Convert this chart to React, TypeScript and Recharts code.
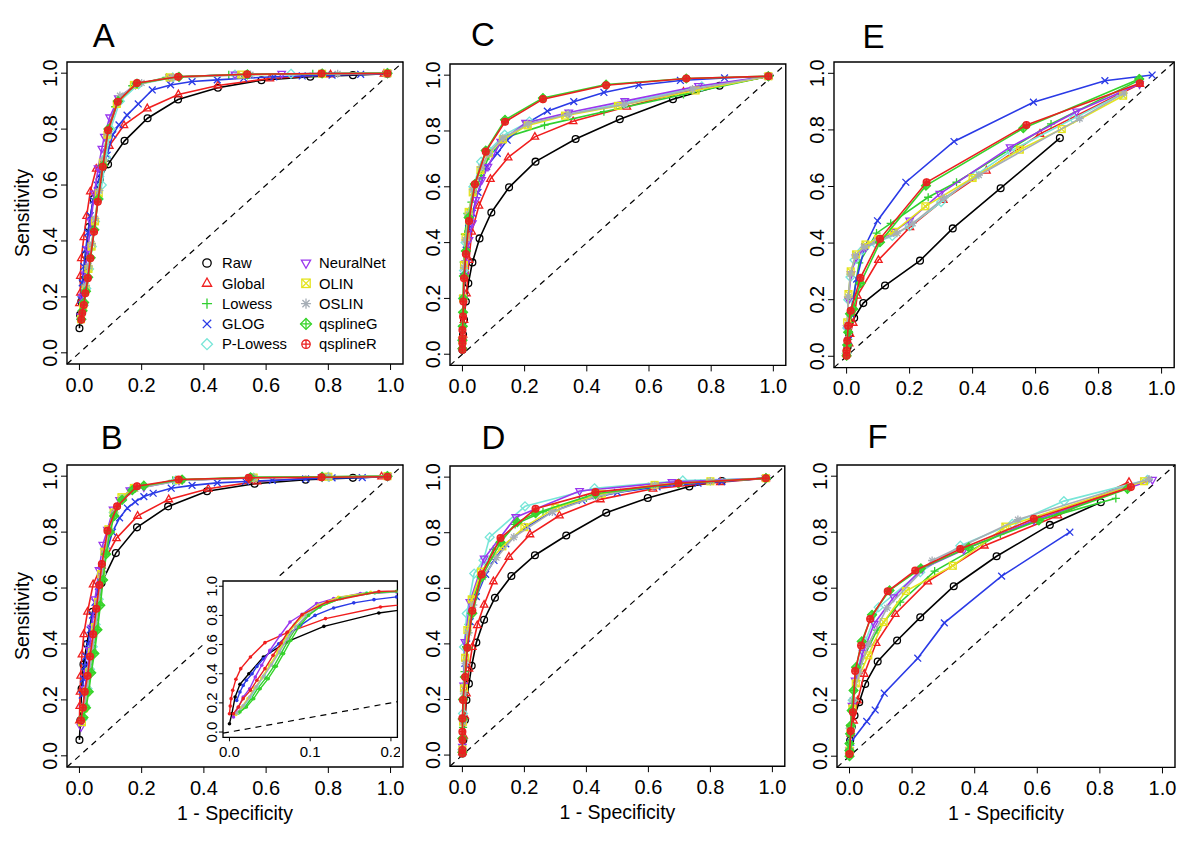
import { ScatterChart, Scatter, XAxis, YAxis, ReferenceLine, ReferenceArea, Legend, Label } from 'recharts';

type Pt = [number, number];

const FONT = '"Liberation Sans", Arial, Helvetica, sans-serif';

const methods = ['Raw', 'Global', 'Lowess', 'GLOG', 'P-Lowess', 'NeuralNet', 'OLIN', 'OSLIN', 'qsplineG', 'qsplineR'];
const colors = ['#000000', '#f01e1e', '#30cf30', '#2a3ae6', '#78e6d8', '#9a36ee', '#e4e41e', '#a6aeb6', '#36d42a', '#ea2020'];
const shapes = ['circle', 'triangle', 'plus', 'cross', 'diamond', 'triangleDown', 'squareX', 'asterisk', 'diamondPlus', 'circlePlus'];

const ticks = [0, 0.2, 0.4, 0.6, 0.8, 1];
const insetXTicks = [0, 0.1, 0.2];

// ---- panel A ----
const aRaw: Pt[] = [[0, 0.088], [0.002, 0.136], [0.006, 0.183], [0.012, 0.26], [0.02, 0.35], [0.03, 0.45], [0.045, 0.55], [0.065, 0.62], [0.092, 0.674], [0.145, 0.758], [0.219, 0.839], [0.317, 0.906], [0.445, 0.948], [0.585, 0.975], [0.742, 0.987], [0.879, 0.993], [0.99, 0.998]];
const aGlobal: Pt[] = [[0, 0.177], [0.003, 0.215], [0.003, 0.275], [0.006, 0.338], [0.014, 0.413], [0.023, 0.489], [0.035, 0.577], [0.054, 0.658], [0.096, 0.74], [0.143, 0.814], [0.218, 0.874], [0.318, 0.924], [0.445, 0.956], [0.612, 0.981], [0.807, 0.995], [0.979, 0.998]];
const aLowess: Pt[] = [[0.005, 0.13], [0.012, 0.18], [0.02, 0.24], [0.028, 0.3], [0.037, 0.37], [0.048, 0.46], [0.06, 0.56], [0.073, 0.67], [0.088, 0.78], [0.115, 0.88], [0.17, 0.955], [0.28, 0.985], [0.48, 0.994], [0.75, 0.998], [0.99, 1]];
const aGlog: Pt[] = [[0.005, 0.19], [0.009, 0.25], [0.014, 0.308], [0.02, 0.37], [0.027, 0.43], [0.035, 0.49], [0.044, 0.546], [0.057, 0.6], [0.068, 0.642], [0.089, 0.707], [0.107, 0.78], [0.127, 0.815], [0.153, 0.85], [0.189, 0.89], [0.234, 0.94], [0.293, 0.958], [0.362, 0.97], [0.443, 0.976], [0.528, 0.982], [0.625, 0.987], [0.716, 0.99], [0.812, 0.993], [0.904, 0.996], [0.99, 0.998]];
const aPLowess: Pt[] = [[0.006, 0.12], [0.014, 0.17], [0.022, 0.23], [0.031, 0.3], [0.04, 0.38], [0.05, 0.47], [0.062, 0.55], [0.072, 0.6], [0.085, 0.7], [0.1, 0.8], [0.13, 0.9], [0.19, 0.96], [0.3, 0.985], [0.5, 0.995], [0.68, 0.998], [0.99, 1]];
const aNeural: Pt[] = [[0.004, 0.13], [0.01, 0.2], [0.018, 0.28], [0.027, 0.37], [0.037, 0.47], [0.048, 0.57], [0.06, 0.66], [0.072, 0.73], [0.08, 0.773], [0.097, 0.842], [0.125, 0.91], [0.18, 0.96], [0.29, 0.985], [0.5, 0.995], [0.65, 0.998], [0.99, 1]];
const aOlin: Pt[] = [[0.005, 0.12], [0.012, 0.17], [0.02, 0.23], [0.029, 0.3], [0.039, 0.38], [0.05, 0.47], [0.062, 0.57], [0.075, 0.68], [0.09, 0.78], [0.12, 0.89], [0.175, 0.958], [0.29, 0.985], [0.52, 0.995], [0.78, 0.998], [0.99, 1]];
const aOslin: Pt[] = [[0.005, 0.12], [0.013, 0.18], [0.021, 0.24], [0.03, 0.31], [0.04, 0.39], [0.051, 0.48], [0.064, 0.58], [0.077, 0.69], [0.092, 0.79], [0.13, 0.92], [0.2, 0.965], [0.3, 0.985], [0.55, 0.995], [0.83, 0.998], [0.99, 1]];
const aQG: Pt[] = [[0.006, 0.12], [0.01, 0.15], [0.015, 0.18], [0.021, 0.22], [0.028, 0.27], [0.036, 0.34], [0.048, 0.44], [0.06, 0.55], [0.076, 0.67], [0.093, 0.8], [0.124, 0.9], [0.185, 0.963], [0.32, 0.987], [0.54, 0.996], [0.78, 0.999], [0.99, 1]];
const aQR: Pt[] = [[0.006, 0.118], [0.009, 0.142], [0.014, 0.171], [0.019, 0.213], [0.027, 0.267], [0.035, 0.338], [0.047, 0.433], [0.059, 0.54], [0.075, 0.665], [0.092, 0.796], [0.123, 0.898], [0.185, 0.965], [0.317, 0.987], [0.539, 0.996], [0.778, 0.999], [0.99, 0.999]];

// ---- panel B (also used by the inset) ----
const bRaw: Pt[] = [[0, 0.057], [0.003, 0.126], [0.007, 0.24], [0.013, 0.327], [0.024, 0.4], [0.042, 0.515], [0.071, 0.618], [0.117, 0.725], [0.185, 0.817], [0.285, 0.892], [0.41, 0.946], [0.563, 0.973], [0.727, 0.987], [0.879, 0.994], [0.99, 0.999]];
const bGlobal: Pt[] = [[0, 0.126], [0.001, 0.178], [0.002, 0.229], [0.004, 0.286], [0.008, 0.362], [0.014, 0.435], [0.026, 0.515], [0.044, 0.613], [0.071, 0.68], [0.119, 0.778], [0.187, 0.858], [0.287, 0.917], [0.414, 0.955], [0.571, 0.981], [0.778, 0.996], [0.971, 0.999]];
const bLowess: Pt[] = [[0.011, 0.13], [0.019, 0.17], [0.027, 0.23], [0.035, 0.3], [0.045, 0.37], [0.055, 0.45], [0.064, 0.54], [0.073, 0.63], [0.083, 0.72], [0.096, 0.8], [0.112, 0.86], [0.14, 0.92], [0.18, 0.955], [0.3, 0.985], [0.55, 0.995], [0.8, 0.998], [0.99, 1]];
const bGlog: Pt[] = [[0.009, 0.217], [0.013, 0.275], [0.017, 0.32], [0.021, 0.355], [0.028, 0.4], [0.034, 0.45], [0.042, 0.503], [0.05, 0.549], [0.061, 0.606], [0.073, 0.67], [0.088, 0.732], [0.106, 0.8], [0.129, 0.851], [0.154, 0.886], [0.179, 0.908], [0.207, 0.927], [0.237, 0.939], [0.295, 0.957], [0.362, 0.967], [0.443, 0.976], [0.534, 0.981], [0.62, 0.985], [0.727, 0.99], [0.812, 0.994], [0.909, 0.995], [0.99, 0.999]];
const bPLowess: Pt[] = [[0.01, 0.13], [0.018, 0.18], [0.026, 0.24], [0.034, 0.31], [0.043, 0.39], [0.052, 0.47], [0.062, 0.56], [0.071, 0.65], [0.081, 0.74], [0.094, 0.81], [0.11, 0.87], [0.135, 0.92], [0.17, 0.955], [0.31, 0.985], [0.56, 0.995], [0.8, 0.998], [0.99, 1]];
const bNeural: Pt[] = [[0.005, 0.103], [0.011, 0.17], [0.017, 0.24], [0.025, 0.297], [0.032, 0.378], [0.04, 0.458], [0.05, 0.56], [0.063, 0.664], [0.075, 0.755], [0.09, 0.808], [0.108, 0.881], [0.129, 0.915], [0.162, 0.95], [0.207, 0.961], [0.32, 0.985], [0.55, 0.994], [0.78, 0.997], [0.99, 1]];
const bOlin: Pt[] = [[0.008, 0.12], [0.015, 0.17], [0.023, 0.23], [0.031, 0.3], [0.04, 0.37], [0.05, 0.46], [0.06, 0.55], [0.07, 0.65], [0.08, 0.73], [0.093, 0.81], [0.11, 0.87], [0.135, 0.925], [0.175, 0.958], [0.32, 0.986], [0.56, 0.995], [0.8, 0.998], [0.99, 1]];
const bOslin: Pt[] = [[0.009, 0.13], [0.017, 0.18], [0.025, 0.24], [0.033, 0.31], [0.042, 0.38], [0.052, 0.46], [0.062, 0.55], [0.072, 0.64], [0.082, 0.72], [0.095, 0.8], [0.112, 0.865], [0.14, 0.92], [0.18, 0.955], [0.33, 0.986], [0.56, 0.995], [0.8, 0.998], [0.99, 1]];
const bQG: Pt[] = [[0.013, 0.137], [0.021, 0.172], [0.03, 0.229], [0.038, 0.297], [0.048, 0.366], [0.058, 0.451], [0.067, 0.538], [0.076, 0.629], [0.086, 0.721], [0.098, 0.8], [0.112, 0.858], [0.137, 0.915], [0.17, 0.95], [0.207, 0.966], [0.33, 0.988], [0.55, 0.996], [0.78, 0.998], [0.99, 1]];
const bQR: Pt[] = [[0.005, 0.126], [0.011, 0.172], [0.017, 0.229], [0.026, 0.286], [0.034, 0.355], [0.044, 0.435], [0.054, 0.526], [0.064, 0.611], [0.072, 0.686], [0.09, 0.805], [0.121, 0.892], [0.185, 0.964], [0.319, 0.988], [0.544, 0.994], [0.778, 0.996], [0.99, 0.998]];

// ---- panel C ----
const cRaw: Pt[] = [[0, 0.016], [0.002, 0.07], [0.005, 0.123], [0.011, 0.189], [0.019, 0.254], [0.032, 0.329], [0.055, 0.415], [0.093, 0.508], [0.15, 0.598], [0.235, 0.69], [0.364, 0.771], [0.506, 0.842], [0.677, 0.914], [0.827, 0.962], [0.984, 0.996]];
const cGlobal: Pt[] = [[0, 0.03], [0.002, 0.07], [0.005, 0.123], [0.013, 0.218], [0.021, 0.338], [0.03, 0.439], [0.053, 0.532], [0.09, 0.628], [0.147, 0.705], [0.233, 0.779], [0.356, 0.835], [0.529, 0.887], [0.711, 0.94], [0.984, 0.996]];
const cLowess: Pt[] = [[0, 0.05], [0.002, 0.2], [0.004, 0.33], [0.008, 0.43], [0.016, 0.505], [0.029, 0.545], [0.06, 0.64], [0.085, 0.71], [0.144, 0.779], [0.264, 0.821], [0.455, 0.869], [0.711, 0.931], [0.984, 0.996]];
const cGlog: Pt[] = [[0, 0.05], [0.003, 0.2], [0.007, 0.3], [0.012, 0.373], [0.02, 0.45], [0.032, 0.505], [0.05, 0.58], [0.078, 0.672], [0.112, 0.72], [0.144, 0.767], [0.203, 0.825], [0.273, 0.871], [0.358, 0.905], [0.455, 0.938], [0.567, 0.964], [0.701, 0.981], [0.843, 0.99], [0.984, 0.996]];
const cPLowess: Pt[] = [[0, 0.05], [0.002, 0.2], [0.005, 0.3], [0.01, 0.4], [0.02, 0.5], [0.035, 0.6], [0.06, 0.69], [0.085, 0.73], [0.136, 0.787], [0.215, 0.834], [0.34, 0.86], [0.52, 0.9], [0.77, 0.96], [0.984, 0.996]];
const cNeural: Pt[] = [[0, 0.05], [0.003, 0.2], [0.006, 0.28], [0.011, 0.326], [0.021, 0.409], [0.032, 0.469], [0.043, 0.553], [0.062, 0.624], [0.082, 0.672], [0.123, 0.761], [0.203, 0.829], [0.342, 0.866], [0.522, 0.907], [0.759, 0.961], [0.984, 0.996]];
const cOlin: Pt[] = [[0, 0.05], [0.002, 0.2], [0.005, 0.32], [0.01, 0.42], [0.02, 0.51], [0.033, 0.58], [0.058, 0.66], [0.085, 0.72], [0.13, 0.77], [0.21, 0.82], [0.33, 0.855], [0.5, 0.89], [0.75, 0.945], [0.984, 0.996]];
const cOslin: Pt[] = [[0, 0.05], [0.002, 0.2], [0.005, 0.31], [0.01, 0.41], [0.02, 0.5], [0.034, 0.59], [0.06, 0.67], [0.085, 0.72], [0.13, 0.775], [0.21, 0.825], [0.34, 0.86], [0.52, 0.895], [0.74, 0.95], [0.984, 0.996]];
const cQG: Pt[] = [[0, 0.02], [0, 0.05], [0.001, 0.1], [0.002, 0.15], [0.003, 0.2], [0.005, 0.28], [0.011, 0.37], [0.02, 0.49], [0.04, 0.61], [0.075, 0.73], [0.137, 0.84], [0.259, 0.918], [0.462, 0.966], [0.72, 0.988], [0.984, 0.996]];
const cQR: Pt[] = [[0, 0.016], [0, 0.039], [0, 0.057], [0, 0.087], [0.002, 0.135], [0.003, 0.189], [0.005, 0.272], [0.011, 0.359], [0.021, 0.477], [0.04, 0.609], [0.075, 0.726], [0.137, 0.833], [0.259, 0.914], [0.462, 0.964], [0.72, 0.988], [0.984, 0.996]];

// ---- panel D ----
const dRaw: Pt[] = [[0, 0.006], [0.003, 0.054], [0.008, 0.126], [0.013, 0.198], [0.021, 0.257], [0.03, 0.321], [0.045, 0.405], [0.07, 0.487], [0.105, 0.566], [0.158, 0.644], [0.234, 0.719], [0.335, 0.79], [0.464, 0.872], [0.598, 0.925], [0.732, 0.966], [0.837, 0.986], [0.979, 0.996]];
const dGlobal: Pt[] = [[0, 0.01], [0.004, 0.07], [0.008, 0.14], [0.013, 0.222], [0.021, 0.311], [0.032, 0.389], [0.048, 0.467], [0.07, 0.541], [0.1, 0.625], [0.15, 0.713], [0.218, 0.794], [0.313, 0.862], [0.445, 0.92], [0.615, 0.958], [0.832, 0.982], [0.979, 0.996]];
const dLowess: Pt[] = [[0, 0.02], [0.002, 0.1], [0.004, 0.2], [0.007, 0.3], [0.012, 0.39], [0.02, 0.47], [0.035, 0.56], [0.06, 0.65], [0.1, 0.74], [0.17, 0.83], [0.26, 0.875], [0.4, 0.925], [0.6, 0.965], [0.8, 0.985], [0.979, 0.996]];
const dGlog: Pt[] = [[0, 0.02], [0.002, 0.12], [0.004, 0.24], [0.008, 0.33], [0.014, 0.4], [0.025, 0.48], [0.045, 0.57], [0.075, 0.65], [0.102, 0.7], [0.14, 0.76], [0.209, 0.823], [0.29, 0.875], [0.386, 0.916], [0.5, 0.945], [0.628, 0.965], [0.76, 0.978], [0.837, 0.984], [0.979, 0.996]];
const dPLowess: Pt[] = [[0, 0.02], [0.002, 0.15], [0.005, 0.389], [0.014, 0.509], [0.038, 0.653], [0.068, 0.701], [0.088, 0.784], [0.202, 0.895], [0.426, 0.96], [0.711, 0.988], [0.979, 0.996]];
const dNeural: Pt[] = [[0, 0.03], [0.002, 0.12], [0.004, 0.25], [0.008, 0.407], [0.024, 0.551], [0.07, 0.707], [0.172, 0.856], [0.378, 0.95], [0.676, 0.982], [0.979, 0.996]];
const dOlin: Pt[] = [[0, 0.02], [0.002, 0.12], [0.005, 0.24], [0.009, 0.35], [0.016, 0.45], [0.03, 0.56], [0.06, 0.66], [0.129, 0.751], [0.2, 0.82], [0.3, 0.89], [0.45, 0.94], [0.62, 0.972], [0.8, 0.985], [0.979, 0.996]];
const dOslin: Pt[] = [[0, 0.02], [0.002, 0.12], [0.005, 0.22], [0.01, 0.33], [0.02, 0.44], [0.035, 0.54], [0.066, 0.64], [0.11, 0.71], [0.166, 0.784], [0.29, 0.875], [0.43, 0.93], [0.62, 0.97], [0.8, 0.985], [0.979, 0.996]];
const dQG: Pt[] = [[0, 0.01], [0, 0.06], [0.001, 0.13], [0.002, 0.2], [0.008, 0.281], [0.016, 0.386], [0.032, 0.51], [0.062, 0.64], [0.123, 0.766], [0.177, 0.838], [0.236, 0.87], [0.429, 0.94], [0.697, 0.977], [0.979, 0.996]];
const dQR: Pt[] = [[0, 0.006], [0, 0.018], [0, 0.054], [0, 0.084], [0, 0.132], [0.002, 0.198], [0.009, 0.281], [0.016, 0.386], [0.032, 0.519], [0.062, 0.65], [0.123, 0.781], [0.236, 0.886], [0.429, 0.946], [0.697, 0.978], [0.979, 0.996]];

// ---- panel E ----
const eRaw: Pt[] = [[0, 0.008], [0.003, 0.032], [0.008, 0.079], [0.024, 0.135], [0.053, 0.188], [0.122, 0.25], [0.233, 0.338], [0.337, 0.452], [0.489, 0.594], [0.677, 0.771]];
const eGlobal: Pt[] = [[0, 0.008], [0.008, 0.045], [0.011, 0.079], [0.021, 0.118], [0.034, 0.214], [0.101, 0.34], [0.201, 0.456], [0.307, 0.552], [0.444, 0.656], [0.614, 0.786], [0.931, 0.962]];
const eLowess: Pt[] = [[0, 0.008], [0.005, 0.06], [0.01, 0.12], [0.02, 0.2], [0.04, 0.33], [0.095, 0.435], [0.14, 0.47], [0.259, 0.562], [0.349, 0.615], [0.649, 0.821], [0.929, 0.976]];
const eGlog: Pt[] = [[0, 0.008], [0.005, 0.055], [0.013, 0.15], [0.032, 0.273], [0.058, 0.388], [0.098, 0.479], [0.188, 0.615], [0.341, 0.759], [0.593, 0.898], [0.82, 0.974], [0.97, 0.994]];
const ePLowess: Pt[] = [[0, 0.01], [0.002, 0.1], [0.005, 0.2], [0.012, 0.28], [0.025, 0.34], [0.05, 0.375], [0.09, 0.4], [0.145, 0.425], [0.2, 0.46], [0.3, 0.545], [0.41, 0.64], [0.52, 0.725], [0.72, 0.84], [0.87, 0.925]];
const eNeural: Pt[] = [[0, 0.01], [0.002, 0.1], [0.006, 0.2], [0.014, 0.29], [0.03, 0.35], [0.06, 0.385], [0.1, 0.41], [0.15, 0.44], [0.2, 0.48], [0.296, 0.574], [0.519, 0.739], [0.73, 0.865], [0.93, 0.962]];
const eOlin: Pt[] = [[0, 0.01], [0.002, 0.12], [0.006, 0.22], [0.013, 0.3], [0.03, 0.36], [0.06, 0.395], [0.1, 0.415], [0.15, 0.44], [0.25, 0.53], [0.4, 0.63], [0.55, 0.73], [0.683, 0.803], [0.878, 0.921]];
const eOslin: Pt[] = [[0, 0.01], [0.002, 0.11], [0.005, 0.21], [0.012, 0.29], [0.028, 0.355], [0.055, 0.385], [0.095, 0.405], [0.16, 0.435], [0.21, 0.47], [0.31, 0.56], [0.42, 0.64], [0.74, 0.84], [0.88, 0.93]];
const eQG: Pt[] = [[0, 0.002], [0.002, 0.04], [0.005, 0.085], [0.011, 0.15], [0.021, 0.167], [0.044, 0.258], [0.106, 0.403], [0.252, 0.603], [0.561, 0.806], [0.929, 0.98]];
const eQR: Pt[] = [[0, 0.002], [0, 0.02], [0.002, 0.055], [0.005, 0.108], [0.013, 0.161], [0.044, 0.277], [0.106, 0.415], [0.254, 0.615], [0.571, 0.817], [0.931, 0.965]];

// ---- panel F ----
const fRaw: Pt[] = [[0, 0.008], [0.002, 0.056], [0.007, 0.104], [0.016, 0.145], [0.031, 0.193], [0.05, 0.258], [0.09, 0.338], [0.152, 0.413], [0.226, 0.496], [0.333, 0.607], [0.47, 0.714], [0.64, 0.826], [0.803, 0.907]];
const fGlobal: Pt[] = [[0, 0.02], [0.004, 0.08], [0.013, 0.127], [0.026, 0.199], [0.047, 0.294], [0.085, 0.404], [0.146, 0.508], [0.25, 0.624], [0.431, 0.752], [0.666, 0.86], [0.893, 0.979]];
const fLowess: Pt[] = [[0, 0.02], [0.003, 0.1], [0.01, 0.18], [0.022, 0.27], [0.035, 0.33], [0.088, 0.45], [0.162, 0.55], [0.272, 0.661], [0.482, 0.794], [0.6, 0.842], [0.851, 0.921]];
const fGlog: Pt[] = [[0.004, 0.05], [0.055, 0.124], [0.082, 0.165], [0.111, 0.225], [0.218, 0.35], [0.303, 0.476], [0.486, 0.643], [0.704, 0.8]];
const fPLowess: Pt[] = [[0, 0.02], [0.003, 0.1], [0.01, 0.2], [0.025, 0.31], [0.05, 0.41], [0.093, 0.532], [0.226, 0.657], [0.354, 0.752], [0.52, 0.83], [0.685, 0.911], [0.952, 0.987]];
const fNeural: Pt[] = [[0, 0.02], [0.003, 0.1], [0.008, 0.18], [0.018, 0.27], [0.043, 0.369], [0.079, 0.473], [0.141, 0.568], [0.232, 0.669], [0.365, 0.737], [0.589, 0.842], [0.968, 0.987]];
const fOlin: Pt[] = [[0, 0.02], [0.003, 0.1], [0.009, 0.17], [0.02, 0.26], [0.06, 0.36], [0.109, 0.479], [0.18, 0.59], [0.33, 0.68], [0.498, 0.82], [0.941, 0.982]];
const fOslin: Pt[] = [[0, 0.02], [0.003, 0.1], [0.01, 0.2], [0.03, 0.3], [0.06, 0.4], [0.12, 0.53], [0.264, 0.699], [0.538, 0.845], [0.957, 0.99]];
const fQG: Pt[] = [[0, 0], [0, 0.02], [0, 0.045], [0.002, 0.08], [0.004, 0.11], [0.007, 0.163], [0.013, 0.235], [0.021, 0.318], [0.039, 0.41], [0.072, 0.505], [0.128, 0.592], [0.228, 0.671], [0.381, 0.746], [0.605, 0.842], [0.888, 0.955]];
const fQR: Pt[] = [[0, 0.008], [0.004, 0.09], [0.011, 0.157], [0.018, 0.304], [0.037, 0.395], [0.066, 0.49], [0.122, 0.589], [0.21, 0.663], [0.354, 0.74], [0.589, 0.848], [0.899, 0.961]];

const panelA = [aRaw, aGlobal, aLowess, aGlog, aPLowess, aNeural, aOlin, aOslin, aQG, aQR];
const panelB = [bRaw, bGlobal, bLowess, bGlog, bPLowess, bNeural, bOlin, bOslin, bQG, bQR];
const panelC = [cRaw, cGlobal, cLowess, cGlog, cPLowess, cNeural, cOlin, cOslin, cQG, cQR];
const panelD = [dRaw, dGlobal, dLowess, dGlog, dPLowess, dNeural, dOlin, dOslin, dQG, dQR];
const panelE = [eRaw, eGlobal, eLowess, eGlog, ePLowess, eNeural, eOlin, eOslin, eQG, eQR];
const panelF = [fRaw, fGlobal, fLowess, fGlog, fPLowess, fNeural, fOlin, fOslin, fQG, fQR];

const toXY = (a: Pt[]) => a.map(([x, y]) => ({ x, y }));

function Marker({ cx, cy, kind, color, r = 3.4, sw = 1.2, filled = false }: any) {
  if (cx == null || cy == null) return null;
  const s = r;
  const common = { stroke: color, strokeWidth: sw, fill: 'none' };
  const ff = filled ? color : 'none';
  switch (kind) {
    case 'circle':
      return <circle cx={cx} cy={cy} r={s} {...common} />;
    case 'triangle':
      return <polygon points={`${cx},${cy - s * 1.25} ${cx - s * 1.1},${cy + s * 0.7} ${cx + s * 1.1},${cy + s * 0.7}`} {...common} />;
    case 'triangleDown':
      return <polygon points={`${cx},${cy + s * 1.25} ${cx - s * 1.1},${cy - s * 0.7} ${cx + s * 1.1},${cy - s * 0.7}`} {...common} />;
    case 'plus':
      return <path d={`M${cx - s * 1.2},${cy}H${cx + s * 1.2}M${cx},${cy - s * 1.2}V${cy + s * 1.2}`} {...common} />;
    case 'cross':
      return <path d={`M${cx - s},${cy - s}L${cx + s},${cy + s}M${cx - s},${cy + s}L${cx + s},${cy - s}`} {...common} />;
    case 'diamond':
      return <polygon points={`${cx},${cy - s * 1.3} ${cx + s * 1.3},${cy} ${cx},${cy + s * 1.3} ${cx - s * 1.3},${cy}`} {...common} />;
    case 'squareX':
      return (
        <g {...common}>
          <rect x={cx - s} y={cy - s} width={2 * s} height={2 * s} />
          <path d={`M${cx - s},${cy - s}L${cx + s},${cy + s}M${cx - s},${cy + s}L${cx + s},${cy - s}`} />
        </g>
      );
    case 'asterisk':
      return <path d={`M${cx - s * 1.2},${cy}H${cx + s * 1.2}M${cx},${cy - s * 1.2}V${cy + s * 1.2}M${cx - s * 0.85},${cy - s * 0.85}L${cx + s * 0.85},${cy + s * 0.85}M${cx - s * 0.85},${cy + s * 0.85}L${cx + s * 0.85},${cy - s * 0.85}`} {...common} />;
    case 'diamondPlus':
      return (
        <g stroke={color} strokeWidth={sw}>
          <polygon points={`${cx},${cy - s * 1.3} ${cx + s * 1.3},${cy} ${cx},${cy + s * 1.3} ${cx - s * 1.3},${cy}`} fill={ff} fillOpacity={0.75} />
          <path d={`M${cx - s * 1.3},${cy}H${cx + s * 1.3}M${cx},${cy - s * 1.3}V${cy + s * 1.3}`} fill="none" />
        </g>
      );
    case 'circlePlus':
      return (
        <g stroke={color} strokeWidth={sw}>
          <circle cx={cx} cy={cy} r={s} fill={ff} fillOpacity={0.75} />
          <path d={`M${cx - s},${cy}H${cx + s}M${cx},${cy - s}V${cy + s}`} fill="none" />
        </g>
      );
    default:
      return <circle cx={cx} cy={cy} r={s} {...common} />;
  }
}

const YTick = ({ x, y, payload, fs, off }: any) => {
  const bx = x + off;
  return (
    <text x={bx} y={y} transform={`rotate(-90 ${bx} ${y})`} textAnchor="middle" fontSize={fs} fontFamily={FONT} fill="#000">
      {Number(payload.value).toFixed(1)}
    </text>
  );
};

const XTick = ({ x, y, payload, fs, off }: any) => (
  <text x={x} y={y + off} textAnchor="middle" fontSize={fs} fontFamily={FONT} fill="#000">
    {Number(payload.value).toFixed(1)}
  </text>
);

const LegendBox = () => (
  <svg width={230} height={110} style={{ display: 'block' }}>
    {methods.map((m, i) => {
      const col = i < 5 ? 0 : 1;
      const row = i % 5;
      const cx = col ? 111 : 12;
      const cy = 13 + row * 20.3;
      return (
        <g key={m}>
          <Marker cx={cx} cy={cy} kind={shapes[i]} color={colors[i]} r={4.2} sw={1.3} />
          <text x={col ? 124 : 27} y={cy + 5.2} fontSize={14.8} fontFamily={FONT} fill="#000">{m}</text>
        </g>
      );
    })}
  </svg>
);

type Box = { l: number; t: number; w: number; h: number };

function Panel({ box, data, yTitle, xTitle, legend }: { box: Box; data: Pt[][]; yTitle?: boolean; xTitle?: boolean; legend?: boolean }) {
  const YW = 60, XH = 60, MT = 4, MR = 4;
  return (
    <div style={{ position: 'absolute', left: box.l - YW, top: box.t - MT }}>
      <ScatterChart width={YW + box.w + MR} height={MT + box.h + XH} margin={{ top: MT, right: MR, bottom: 0, left: 0 }}>
        <XAxis type="number" dataKey="x" domain={[-0.04, 1.04]} ticks={ticks} interval={0} height={XH}
          axisLine={false} tickSize={6} tickMargin={6} tickLine={{ stroke: '#000', strokeWidth: 1 }}
          tick={<XTick fs={20} off={15.5} />} allowDataOverflow>
          {xTitle && (
            <Label content={(p: any) => (
              <text x={p.viewBox.x + p.viewBox.width / 2} y={p.viewBox.y + 53} textAnchor="middle" fontSize={19.5} fontFamily={FONT} fill="#000">1 - Specificity</text>
            )} />
          )}
        </XAxis>
        <YAxis type="number" dataKey="y" domain={[-0.04, 1.04]} ticks={ticks} interval={0} width={YW}
          axisLine={false} tickSize={6} tickMargin={6} tickLine={{ stroke: '#000', strokeWidth: 1 }}
          tick={<YTick fs={20} off={1.7} />} allowDataOverflow>
          {yTitle && (
            <Label content={(p: any) => {
              const bx = p.viewBox.x + p.viewBox.width - 38;
              const cy = p.viewBox.y + p.viewBox.height / 2;
              return (
                <text x={bx} y={cy} transform={`rotate(-90 ${bx} ${cy})`} textAnchor="middle" fontSize={19.5} fontFamily={FONT} fill="#000">Sensitivity</text>
              );
            }} />
          )}
        </YAxis>
        <ReferenceLine segment={[{ x: -0.04, y: -0.04 }, { x: 1.04, y: 1.04 }]} stroke="#000" strokeWidth={1.2} strokeDasharray="6 5" ifOverflow="visible" />
        {data.map((pts, i) => (
          <Scatter key={methods[i]} name={methods[i]} data={toXY(pts)} fill={colors[i]}
            line={{ stroke: colors[i], strokeWidth: 1.6 }} isAnimationActive={false}
            shape={(p: any) => <Marker cx={p.cx} cy={p.cy} kind={shapes[i]} color={colors[i]} r={3.4} sw={1.3} filled={i >= 8} />} />
        ))}
        <ReferenceArea x1={-0.04} x2={1.04} y1={-0.04} y2={1.04} fill="none" fillOpacity={0} stroke="#000" strokeWidth={1.4} ifOverflow="visible" />
        {legend && (
          <Legend layout="horizontal" verticalAlign="middle" align="center"
            wrapperStyle={{ left: 188, top: 192, width: 230, height: 110, margin: 0 }}
            content={() => <LegendBox />} />
        )}
      </ScatterChart>
    </div>
  );
}

function Inset() {
  const box = { l: 222.8, t: 580.7, w: 174.4, h: 156.3 };
  const YW = 20, XH = 27, MT = 14, MR = 3;
  return (
    <div style={{ position: 'absolute', left: box.l - YW, top: box.t - MT, background: `linear-gradient(to bottom, transparent ${MT - 5}px, #fff ${MT - 5}px)` }}>
      <ScatterChart width={YW + box.w + MR} height={MT + box.h + XH} margin={{ top: MT, right: MR, bottom: 0, left: 0 }}>
        <XAxis type="number" dataKey="x" domain={[-0.008, 0.208]} ticks={insetXTicks} interval={0} height={XH}
          axisLine={false} tickSize={4} tickMargin={3} tickLine={{ stroke: '#000', strokeWidth: 1 }}
          tick={<XTick fs={15} off={13} />} allowDataOverflow />
        <YAxis type="number" dataKey="y" domain={[-0.036, 1.036]} ticks={ticks} interval={0} width={YW}
          axisLine={false} tickSize={4} tickMargin={3} tickLine={{ stroke: '#000', strokeWidth: 1 }}
          tick={<YTick fs={15} off={0.7} />} allowDataOverflow />
        <ReferenceLine segment={[{ x: -0.008, y: -0.008 }, { x: 0.208, y: 0.208 }]} stroke="#000" strokeWidth={1.2} strokeDasharray="6 5" ifOverflow="visible" />
        {panelB.map((pts, i) => (
          <Scatter key={methods[i]} name={methods[i]} data={toXY(pts)} fill={colors[i]}
            line={{ stroke: colors[i], strokeWidth: 1.4 }} isAnimationActive={false}
            shape={(p: any) => (p.cx == null ? null : <circle cx={p.cx} cy={p.cy} r={1.8} fill={colors[i]} />)} />
        ))}
        <ReferenceArea x1={-0.008} x2={0.208} y1={-0.036} y2={1.036} fill="none" fillOpacity={0} stroke="#000" strokeWidth={1.3} ifOverflow="visible" />
      </ScatterChart>
    </div>
  );
}

const letters: [string, number, number][] = [
  ['A', 92.7, 46.7], ['B', 100.7, 449.3], ['C', 471, 46.3],
  ['D', 481.4, 449.3], ['E', 862.4, 48.3], ['F', 867.4, 448.3],
];

export default function App() {
  return (
    <div style={{ position: 'absolute', left: 0, top: 0, width: 1200, height: 864, background: '#fff', overflow: 'hidden' }}>
      <Panel box={{ l: 67, t: 62, w: 336, h: 302 }} data={panelA} yTitle legend />
      <Panel box={{ l: 67, t: 465, w: 336, h: 302 }} data={panelB} yTitle xTitle />
      <Panel box={{ l: 449.6, t: 63.8, w: 335.8, h: 301.4 }} data={panelC} />
      <Panel box={{ l: 449.6, t: 465.9, w: 334.8, h: 300.2 }} data={panelD} xTitle />
      <Panel box={{ l: 834.4, t: 61.7, w: 340.2, h: 305.6 }} data={panelE} />
      <Panel box={{ l: 836.5, t: 464.8, w: 338, h: 302.4 }} data={panelF} xTitle />
      <Inset />
      <svg width={1200} height={864} style={{ position: 'absolute', left: 0, top: 0, pointerEvents: 'none' }}>
        {letters.map(([t, x, y]) => (
          <text key={t} x={x} y={y} fontSize={33} fontFamily={FONT} fill="#000">{t}</text>
        ))}
      </svg>
    </div>
  );
}
